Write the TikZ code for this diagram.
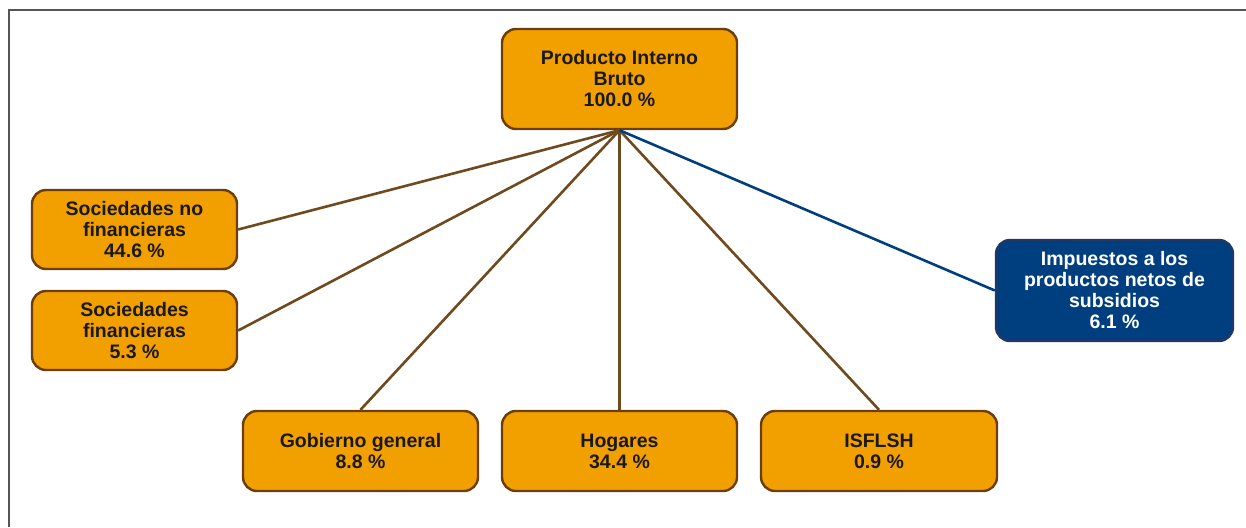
\documentclass[tikz,border=0pt]{standalone}
\usepackage{fontspec}
\setmainfont{Liberation Sans}
\definecolor{boxorange}{HTML}{F29F00}
\definecolor{boxbrown}{HTML}{6B3E0B}
\definecolor{linebrown}{HTML}{6E4A1E}
\definecolor{boxblue}{HTML}{003F7F}
\definecolor{boxblueedge}{HTML}{1F3864}
\definecolor{framegray}{HTML}{555555}
\begin{document}
\begin{tikzpicture}[x=1pt,y=-1pt,
  obox/.style={draw=boxbrown, fill=boxorange, line width=2.4pt, rounded corners=14pt,
    align=center, font=\fontsize{19.5}{21}\selectfont\bfseries, text=black!90, inner sep=0pt},
  bbox/.style={draw=boxblueedge, fill=boxblue, line width=2.4pt, rounded corners=14pt,
    align=center, font=\fontsize{19.5}{21}\selectfont\bfseries, text=white, inner sep=0pt},
  olink/.style={draw=linebrown, line width=2.6pt},
  blink/.style={draw=boxblue, line width=2.6pt}]
\useasboundingbox (0,0) rectangle (1246,527);
\draw[framegray, line width=2pt] (9,527) -- (9,10) -- (1246,10);
\node[obox, minimum width=235pt, minimum height=100pt] (pib) at (619.5,79) {Producto Interno\\Bruto\\100.0 \%};
\node[obox, minimum width=205pt, minimum height=79pt] (snf) at (134.5,229.5) {Sociedades no\\financieras\\44.6 \%};
\node[obox, minimum width=205pt, minimum height=79pt] (sf) at (134.5,330.5) {Sociedades\\financieras\\5.3 \%};
\node[obox, minimum width=235pt, minimum height=80pt] (gob) at (360.5,451) {Gobierno general\\8.8 \%};
\node[obox, minimum width=235pt, minimum height=80pt] (hog) at (619.5,451) {Hogares\\34.4 \%};
\node[obox, minimum width=236pt, minimum height=80pt] (isf) at (879,451) {ISFLSH\\0.9 \%};
\node[bbox, minimum width=237pt, minimum height=101pt] (imp) at (1114.5,290.5) {Impuestos a los\\productos netos de\\subsidios\\6.1 \%};
\draw[olink] (pib.south) -- (snf.east);
\draw[olink] (pib.south) -- (sf.east);
\draw[olink] (pib.south) -- (gob.north);
\draw[olink] (pib.south) -- (hog.north);
\draw[olink] (pib.south) -- (isf.north);
\draw[blink] (pib.south) -- (imp.west);
\end{tikzpicture}
\end{document}
